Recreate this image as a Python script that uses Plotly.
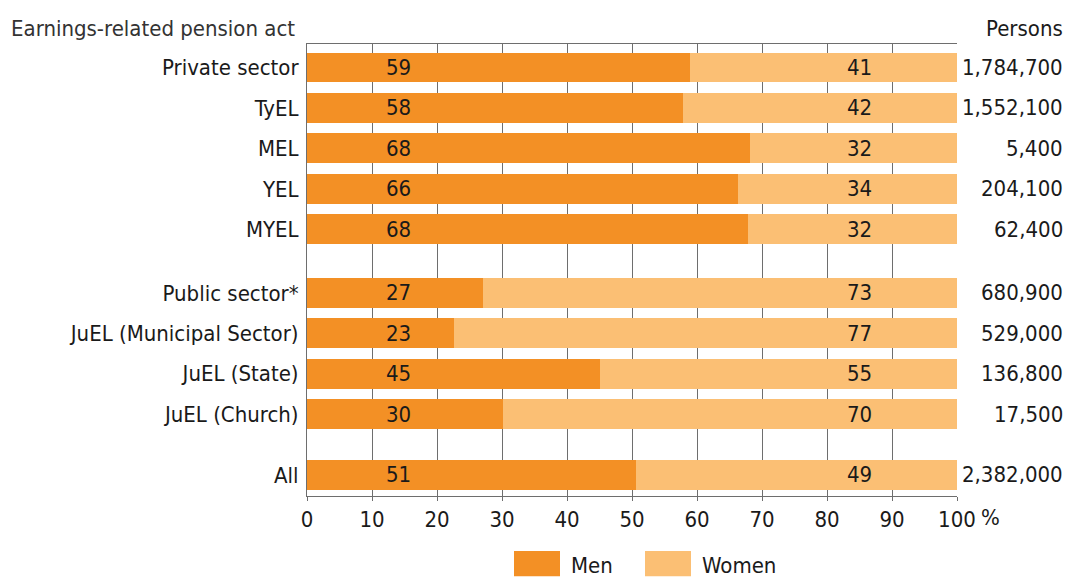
import plotly.graph_objects as go

# --- Datos ---
acts = ["Private sector", "TyEL", "MEL", "YEL", "MYEL",
        "Public sector*", "JuEL (Municipal Sector)", "JuEL (State)", "JuEL (Church)",
        "All"]
group_sizes = [5, 4, 1]
men_share = [58.9, 57.9, 68.2, 66.3, 67.8, 27.1, 22.6, 45.1, 30.1, 50.6]
men_label = [59, 58, 68, 66, 68, 27, 23, 45, 30, 51]
women_label = [41, 42, 32, 34, 32, 73, 77, 55, 70, 49]
persons = ["1,784,700", "1,552,100", "5,400", "204,100", "62,400",
           "680,900", "529,000", "136,800", "17,500", "2,382,000"]
tick_vals = [0, 10, 20, 30, 40, 50, 60, 70, 80, 90, 100]

women_share = [100 - m for m in men_share]

# posiciones verticales con huecos entre grupos
gaps = [0, 1.57, 1.5]
ypos = []
pos = -1
for g, n in enumerate(group_sizes):
    pos += gaps[g] if g else 1
    for i in range(n):
        if i:
            pos += 1
        ypos.append(pos)

MEN = "#F39025"
WOMEN = "#FBBF74"
FONT = "DejaVu Sans Condensed"
TXT = "#1a1a1a"
FS = 22
PLOT_H = 452.4  # alto del área de trazado en px

fig = go.Figure()
fig.add_trace(go.Bar(y=ypos, x=men_share, orientation="h", name="Men",
                     marker_color=MEN, marker_line_width=0, width=0.74))
fig.add_trace(go.Bar(y=ypos, x=women_share, orientation="h", name="Women",
                     marker_color=WOMEN, marker_line_width=0, width=0.74))

# etiquetas de porcentaje y personas
for y, m, w, p in zip(ypos, men_label, women_label, persons):
    fig.add_annotation(x=14, y=y, text=str(m), showarrow=False,
                       font=dict(size=FS, color=TXT))
    fig.add_annotation(x=85, y=y, text=str(w), showarrow=False,
                       font=dict(size=FS, color=TXT))
    fig.add_annotation(x=1, xref="paper", xanchor="right", xshift=108, y=y,
                       text=p, showarrow=False, font=dict(size=FS, color=TXT))

fig.add_annotation(x=0, xref="paper", xanchor="left", xshift=-298,
                   y=1, yref="paper", yanchor="middle", yshift=16,
                   text="Earnings-related pension act", showarrow=False,
                   font=dict(size=FS, color="#333333"))
fig.add_annotation(x=1, xref="paper", xanchor="right", xshift=108,
                   y=1, yref="paper", yanchor="middle", yshift=16,
                   text="Persons", showarrow=False, font=dict(size=FS, color=TXT))
fig.add_annotation(x=1, xref="paper", xanchor="left", xshift=22,
                   y=0, yref="paper", yanchor="middle", yshift=-21,
                   text="%", showarrow=False, font=dict(size=FS, color=TXT))

# leyenda dibujada a mano (cajas grandes)
for x0, label, col in [(514, "Men", MEN), (645, "Women", WOMEN)]:
    fig.add_shape(type="rect", xref="paper", yref="paper",
                  x0=(x0 - 307) / 650, x1=(x0 + 46 - 307) / 650,
                  y0=-(577 - 496.7) / PLOT_H, y1=-(551.7 - 496.7) / PLOT_H,
                  fillcolor=col, line_width=0)
    fig.add_annotation(x=(x0 + 55 - 307) / 650, xref="paper", xanchor="left",
                       y=-(566 - 496.7) / PLOT_H, yref="paper", yanchor="middle",
                       text=label, showarrow=False, font=dict(size=FS, color=TXT))

# la página añade 8 px de margen: se compensa con un lienzo más pequeño
fig.update_layout(
    width=1064, height=569,
    barmode="stack",
    showlegend=False,
    plot_bgcolor="white", paper_bgcolor="white",
    font=dict(family=FONT, size=FS, color=TXT),
    margin=dict(l=299, r=115, t=36, b=80.6, autoexpand=False),
    xaxis=dict(range=[0, 100], tickvals=tick_vals,
               ticktext=[str(v) for v in tick_vals],
               showgrid=True, gridcolor="#6e6e6e", gridwidth=1,
               showline=True, linecolor="#6e6e6e", linewidth=1, mirror=True,
               ticks="outside", ticklen=4, tickcolor="#6e6e6e",
               zeroline=False, fixedrange=True),
    yaxis=dict(range=[10.59, -0.58], tickvals=ypos, ticktext=acts,
               showgrid=False, zeroline=False,
               showline=True, linecolor="#6e6e6e", linewidth=1,
               ticks="", ticklabelstandoff=3, fixedrange=True),
)

fig.write_html("out.html")
